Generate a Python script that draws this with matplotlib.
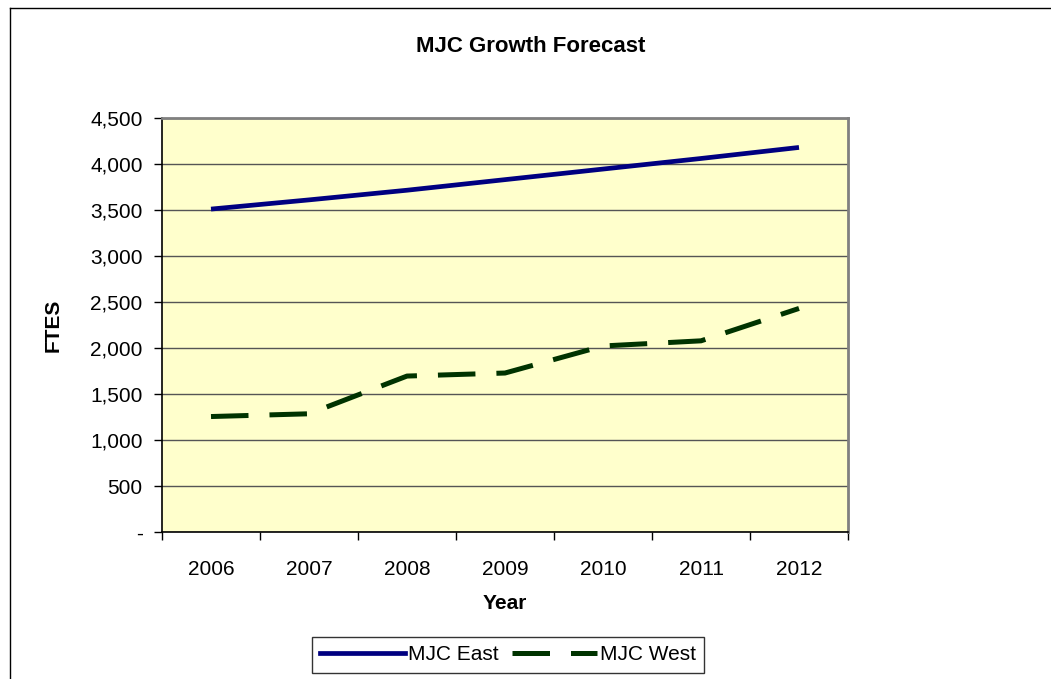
import matplotlib.pyplot as plt
from matplotlib.lines import Line2D
from matplotlib.ticker import FuncFormatter

plt.rcParams['font.family'] = ['Liberation Sans', 'DejaVu Sans']

years = ['2006', '2007', '2008', '2009', '2010', '2011', '2012']
east = [3510, 3610, 3715, 3830, 3945, 4060, 4180]
west = [1255, 1285, 1695, 1728, 2022, 2078, 2430]

fig = plt.figure(figsize=(10.51, 6.79), dpi=100)
ax = fig.add_axes([162 / 1051, 1 - 532 / 679, 686 / 1051, 414 / 679])
ax.set_facecolor('#FFFFCC')

x = list(range(len(years)))
ax.plot(x, east, color='#000080', lw=3.4, solid_capstyle='butt', label='MJC East', zorder=3)
ax.plot(x, west, color='#003300', lw=3.6, dashes=(7.5, 4.2), dash_capstyle='butt', label='MJC West', zorder=3)

ax.set_xlim(-0.5, 6.5)
ax.set_ylim(0, 4500)
ax.set_yticks(range(0, 4501, 500))
ax.yaxis.set_major_formatter(FuncFormatter(lambda v, p: '-' if v == 0 else f'{int(v):,}'))
ax.set_xticks([i - 0.5 for i in range(8)])
ax.set_xticklabels([])
ax.set_xticks(x, minor=True)
ax.set_xticklabels(years, minor=True)
ax.tick_params(axis='x', which='minor', length=0, pad=20, labelsize=15)
ax.tick_params(axis='x', which='major', length=6, width=1, direction='out')
ax.tick_params(axis='y', length=6, width=1, direction='out', labelsize=15, pad=8)
ax.grid(axis='y', color='#555555', lw=1)
ax.set_axisbelow(True)

for s in ['top', 'right']:
    ax.spines[s].set_color('#808080')
    ax.spines[s].set_linewidth(2)
for s in ['left', 'bottom']:
    ax.spines[s].set_color('black')
    ax.spines[s].set_linewidth(1.2)

ax.set_xlabel('Year', fontsize=15, fontweight='bold', labelpad=11)
ax.set_ylabel('FTES', fontsize=15, fontweight='bold', labelpad=20)
fig.text(531 / 1051, 1 - 47 / 679, 'MJC Growth Forecast', ha='center', va='center',
         fontsize=16, fontweight='bold')

handles = [Line2D([], [], color='#000080', lw=3.4),
           Line2D([], [], color='#003300', lw=3.6, dashes=(7.5, 4.2), dash_capstyle='butt')]
leg = fig.legend(handles, ['MJC East', 'MJC West'], loc='center', ncol=2,
                 bbox_to_anchor=(508 / 1051, 1 - 655 / 679), fontsize=15,
                 frameon=True, fancybox=False, edgecolor='black', handlelength=4.1,
                 handletextpad=0.15, columnspacing=0.6, borderpad=0.4)
leg.get_frame().set_linewidth(1)

# outer chart border (left and top edges visible)
fig.add_artist(Line2D([10 / 1051, 10 / 1051], [0, 1 - 8 / 679], color='black', lw=1, transform=fig.transFigure))
fig.add_artist(Line2D([10 / 1051, 1], [1 - 8 / 679, 1 - 8 / 679], color='black', lw=1, transform=fig.transFigure))

fig.savefig('out.png', dpi=100)
